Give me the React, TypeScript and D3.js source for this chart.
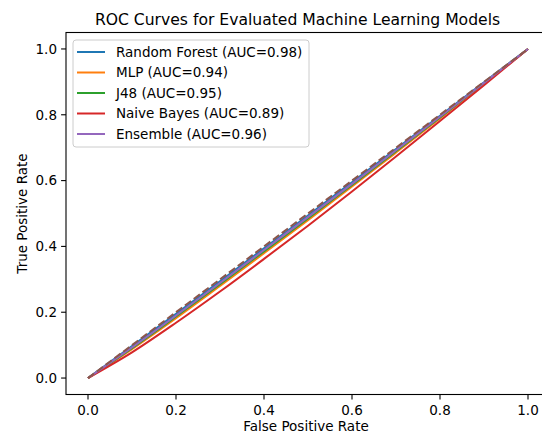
import React, { useMemo } from 'react';
import { scaleLinear, line as d3Line, curveMonotoneX } from 'd3';

// ROC curves (fpr grid shared by every model)
const fprGrid = [0, 0.1, 0.2, 0.3, 0.4, 0.5, 0.6, 0.7, 0.8, 0.9, 1.0];

const randomForestTpr = [0, 0.097, 0.195, 0.294, 0.394, 0.494, 0.595, 0.696, 0.797, 0.899, 1.0];
const mlpTpr = [0, 0.088, 0.182, 0.28, 0.379, 0.48, 0.582, 0.685, 0.789, 0.895, 1.0];
const j48Tpr = [0, 0.091, 0.187, 0.285, 0.385, 0.485, 0.587, 0.689, 0.792, 0.896, 1.0];
const naiveBayesTpr = [0, 0.078, 0.168, 0.263, 0.362, 0.463, 0.567, 0.673, 0.781, 0.89, 1.0];
const ensembleTpr = [0, 0.093, 0.19, 0.289, 0.389, 0.489, 0.59, 0.692, 0.794, 0.897, 1.0];

const modelNames = ['Random Forest', 'MLP', 'J48', 'Naive Bayes', 'Ensemble'];
const modelAuc = ['0.98', '0.94', '0.95', '0.89', '0.96'];
const modelColors = ['#1f77b4', '#ff7f0e', '#2ca02c', '#d62728', '#9467bd'];
const modelTpr = [randomForestTpr, mlpTpr, j48Tpr, naiveBayesTpr, ensembleTpr];

const chanceX = [0, 1];
const chanceY = [0, 1];

const tickValues = [0, 0.2, 0.4, 0.6, 0.8, 1.0];

const WIDTH = 542;
const HEIGHT = 436;
const FONT = "'DejaVu Sans', sans-serif";
const LABEL_SIZE = 13.5;

export default function App() {
  // axes limits like matplotlib's 5% margin
  const x = useMemo(() => scaleLinear().domain([-0.05, 1.05]).range([66, 550]), []);
  const y = useMemo(() => scaleLinear().domain([-0.05, 1.05]).range([394.5, 32.5]), []);

  const lineGen = d3Line<[number, number]>()
    .x((d) => x(d[0]))
    .y((d) => y(d[1]))
    .curve(curveMonotoneX);

  const [x0, x1] = x.range();
  const [yb, yt] = y.range();

  return (
    <div style={{ position: 'absolute', left: 0, top: 0 }}>
      <svg width={WIDTH} height={HEIGHT} style={{ display: 'block', fontFamily: FONT }}>
        <rect width={WIDTH} height={HEIGHT} fill="white" />
        <defs>
          <clipPath id="plotArea">
            <rect x={x0} y={yt} width={x1 - x0} height={yb - yt} />
          </clipPath>
        </defs>

        <g clipPath="url(#plotArea)">
          {modelTpr.map((tpr, i) => (
            <path
              key={modelNames[i]}
              d={lineGen(fprGrid.map((f, j) => [f, tpr[j]] as [number, number])) || ''}
              fill="none"
              stroke={modelColors[i]}
              strokeWidth={2}
            />
          ))}
          <path
            d={lineGen(chanceX.map((f, j) => [f, chanceY[j]] as [number, number])) || ''}
            fill="none"
            stroke="#8c564b"
            strokeWidth={2}
            strokeDasharray="7.7,3.3"
          />
        </g>

        {/* spines */}
        <rect x={x0} y={yt} width={x1 - x0} height={yb - yt} fill="none" stroke="black" strokeWidth={1.1} />

        {/* x ticks */}
        {tickValues.map((t) => (
          <g key={'x' + t} transform={`translate(${x(t)},${yb})`}>
            <line y2={4.9} stroke="black" strokeWidth={1.1} />
            <text y={20.5} textAnchor="middle" fontSize={LABEL_SIZE} fill="black">
              {t.toFixed(1)}
            </text>
          </g>
        ))}

        {/* y ticks */}
        {tickValues.map((t) => (
          <g key={'y' + t} transform={`translate(${x0},${y(t)})`}>
            <line x2={-4.9} stroke="black" strokeWidth={1.1} />
            <text x={-9} dy="0.35em" textAnchor="end" fontSize={LABEL_SIZE} fill="black">
              {t.toFixed(1)}
            </text>
          </g>
        ))}

        <text x={306} y={431} textAnchor="middle" fontSize={LABEL_SIZE} fill="black">
          False Positive Rate
        </text>
        <text
          transform={`translate(22,${(yb + yt) / 2}) rotate(-90)`}
          dy="0.35em"
          textAnchor="middle"
          fontSize={LABEL_SIZE}
          fill="black"
        >
          True Positive Rate
        </text>

        <text x={297.5} y={25} textAnchor="middle" fontSize={15.6} fill="black">
          ROC Curves for Evaluated Machine Learning Models
        </text>

        {/* legend */}
        <g>
          <rect
            x={73}
            y={40}
            width={236}
            height={107}
            rx={3}
            fill="white"
            fillOpacity={0.8}
            stroke="#cccccc"
            strokeWidth={1}
          />
          {modelNames.map((name, i) => {
            const cy = 52 + i * 20.5;
            return (
              <g key={'leg' + name}>
                <line x1={77} x2={105} y1={cy} y2={cy} stroke={modelColors[i]} strokeWidth={2} />
                <text x={116} y={cy} dy="0.35em" fontSize={LABEL_SIZE} fill="black">
                  {`${name} (AUC=${modelAuc[i]})`}
                </text>
              </g>
            );
          })}
        </g>
      </svg>
    </div>
  );
}
